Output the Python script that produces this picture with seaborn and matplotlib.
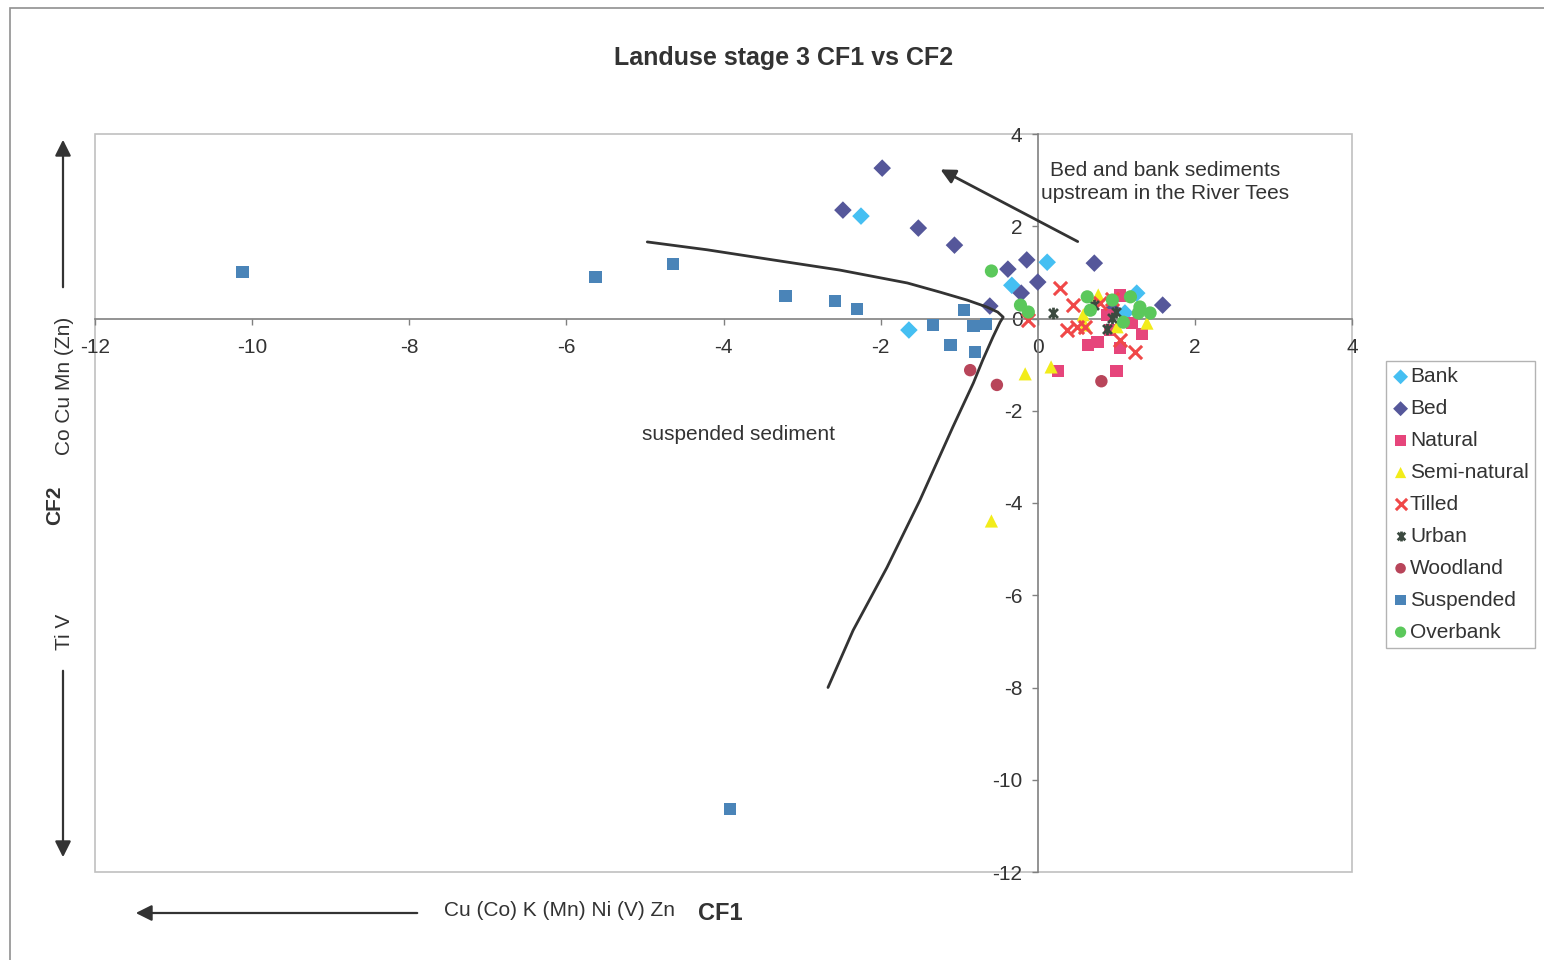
# Landuse stage 3 CF1 vs CF2 scatter
import matplotlib
matplotlib.use('Agg')
import matplotlib.pyplot as plt
from matplotlib.patches import Rectangle
from matplotlib.path import Path
import seaborn as sns

# data (CF1, CF2)
bank_x = [-2.25, -1.64, -0.33, 0.12, 1.26, 1.11]
bank_y = [2.22, -0.25, 0.72, 1.22, 0.55, 0.12]

bed_x = [-1.98, -2.48, -1.52, -1.06, -0.14, -0.38, 0.0, -0.21, -0.61, 0.72, 1.59, 0.95]
bed_y = [3.26, 2.35, 1.96, 1.59, 1.27, 1.07, 0.79, 0.55, 0.27, 1.20, 0.29, 0.20]

natural_x = [0.26, 0.64, 0.76, 1.00, 1.05, 1.33, 0.89, 1.05, 0.92, 1.20]
natural_y = [-1.14, -0.57, -0.51, -1.14, -0.64, -0.33, 0.07, 0.50, -0.25, -0.10]

semi_x = [-0.59, -0.16, 0.17, 0.77, 0.58, 0.60, 1.01, 1.39]
semi_y = [-4.39, -1.20, -1.05, 0.51, 0.08, -0.14, -0.18, -0.10]

tilled_x = [0.28, 0.45, 0.37, 0.50, 0.60, 1.24, 1.05, 0.79, -0.12, 0.95]
tilled_y = [0.66, 0.29, -0.25, -0.18, -0.18, -0.73, -0.47, 0.34, -0.03, 0.42]

urban_x = [0.20, 0.72, 0.88, 1.00, 0.95]
urban_y = [0.12, 0.30, -0.22, 0.15, 0.02]

wood_x = [-0.86, -0.52, 0.81]
wood_y = [-1.12, -1.44, -1.36]

susp_x = [-10.12, -5.63, -4.64, -3.21, -2.58, -2.30, -0.94, -1.33, -1.11, -0.82, -0.66, -0.80, -3.92]
susp_y = [1.01, 0.90, 1.18, 0.49, 0.38, 0.21, 0.18, -0.14, -0.57, -0.16, -0.12, -0.73, -10.64]

over_x = [-0.59, -0.22, -0.12, 0.63, 0.67, 0.95, 1.18, 1.30, 1.43, 1.09, 1.28]
over_y = [1.03, 0.29, 0.14, 0.47, 0.18, 0.40, 0.47, 0.25, 0.12, -0.08, 0.12]

# hand drawn boundary line and arrow (data coords)
curve_x = [-4.97, -4.21, -3.37, -2.52, -1.66, -1.24, -0.90, -0.65, -0.51, -0.44,
           -0.48, -0.57, -0.70, -0.82, -1.08, -1.50, -1.92, -2.35, -2.67]
curve_y = [1.66, 1.49, 1.27, 1.05, 0.77, 0.57, 0.40, 0.25, 0.14, 0.03,
           -0.08, -0.40, -0.90, -1.40, -2.35, -3.94, -5.40, -6.76, -8.00]
arrow_from = (0.54, 1.64)
arrow_to = (-1.27, 3.26)

ticks = [-12, -10, -8, -6, -4, -2, 0, 2, 4]

sns.set_theme(style='white')
plt.rcParams['font.family'] = ['Liberation Sans', 'DejaVu Sans']
plt.rcParams['axes.unicode_minus'] = False

urban_marker = Path([(-1, -1), (1, 1), (-1, 1), (1, -1), (0, -1.3), (0, 1.3)],
                    [Path.MOVETO, Path.LINETO, Path.MOVETO, Path.LINETO, Path.MOVETO, Path.LINETO])

fig = plt.figure(figsize=(15.44, 9.6), dpi=100)
ax = fig.add_axes([95/1544, 1-872/960, (1352-95)/1544, (872-134)/960])

series = [
    ('Bank', bank_x, bank_y, '#45BFF2', 'D', 80),
    ('Bed', bed_x, bed_y, '#55579A', 'D', 80),
    ('Natural', natural_x, natural_y, '#E6457B', 's', 80),
    ('Semi-natural', semi_x, semi_y, '#F2EC1A', '^', 90),
    ('Tilled', tilled_x, tilled_y, '#F04848', 'x', 90),
    ('Urban', urban_x, urban_y, '#3C4A40', urban_marker, 70),
    ('Woodland', wood_x, wood_y, '#B8455A', 'o', 80),
    ('Suspended', susp_x, susp_y, '#4A84B8', 's', 80),
    ('Overbank', over_x, over_y, '#5BC85B', 'o', 90),
]
for name, xs, ys, col, mk, sz in series:
    if mk == 'x':
        sns.scatterplot(x=xs, y=ys, ax=ax, color=col, marker=mk, s=sz, linewidth=2.2, label=name, zorder=3)
    elif name == 'Urban':
        sns.scatterplot(x=xs, y=ys, ax=ax, color=col, marker=mk, s=sz, edgecolor=col, linewidth=2,
                        label=name, zorder=3)
    else:
        sns.scatterplot(x=xs, y=ys, ax=ax, color=col, marker=mk, s=sz, edgecolor='none', label=name, zorder=3)

ax.set_xlim(-12, 4)
ax.set_ylim(-12, 4)
ax.set_xticks(ticks)
ax.set_yticks(ticks)
ax.set_xlabel('')
ax.set_ylabel('')

# excel style axes crossing at zero
for side in ['top', 'right']:
    ax.spines[side].set_visible(False)
ax.spines['left'].set_position(('data', 0))
ax.spines['bottom'].set_position(('data', 0))
for side in ['left', 'bottom']:
    ax.spines[side].set_color('#808080')
    ax.spines[side].set_linewidth(1.2)
ax.tick_params(axis='both', direction='out', length=4, width=1, color='#808080',
               labelsize=15, labelcolor='#333333', bottom=True, left=True)
ax.tick_params(axis='x', pad=10)
ax.tick_params(axis='y', pad=7)
ax.add_patch(Rectangle((0, 0), 1, 1, transform=ax.transAxes, fill=False,
                       edgecolor='#C0C0C0', lw=1.2, clip_on=False, zorder=0))

ax.plot(curve_x, curve_y, color='#333333', lw=2, zorder=4, solid_joinstyle='round')
ax.annotate('', xy=arrow_to, xytext=arrow_from,
            arrowprops=dict(arrowstyle='-|>', color='#333333', lw=2, mutation_scale=22))
ax.text(1.62, 2.96, 'Bed and bank sediments\nupstream in the River Tees', ha='center', va='center',
        fontsize=15, color='#333333', linespacing=1.25)
ax.text(-3.81, -2.51, 'suspended sediment', ha='center', va='center', fontsize=15, color='#333333')

leg = ax.legend(loc='upper left', bbox_to_anchor=(1386/1544, 1-361/960), bbox_transform=fig.transFigure,
                fontsize=15, frameon=True, fancybox=False, edgecolor='#A0A0A0', borderpad=0.3,
                labelspacing=0.62, handletextpad=0.05, handlelength=0.8, borderaxespad=0, markerscale=0.85)
leg.get_frame().set_linewidth(1)
for t in leg.get_texts():
    t.set_color('#333333')

# titles and direction arrows
fig.text(784/1544, 1-58/960, 'Landuse stage 3 CF1 vs CF2', ha='center', va='center',
         fontsize=18, fontweight='bold', color='#333333')
fig.text(720/1544, 1-913/960, 'CF1', ha='center', va='center', fontsize=17, fontweight='bold', color='#333333')
fig.text(559/1544, 1-910/960, 'Cu (Co) K (Mn) Ni (V) Zn', ha='center', va='center', fontsize=15, color='#333333')
fig.text(55/1544, 1-505/960, 'CF2', ha='center', va='center', rotation=90, fontsize=15,
         fontweight='bold', color='#333333')
fig.text(65/1544, 1-386/960, 'Co Cu Mn (Zn)', ha='center', va='center', rotation=90, fontsize=15, color='#333333')
fig.text(65/1544, 1-632/960, 'Ti V', ha='center', va='center', rotation=90, fontsize=15, color='#333333')

arr = dict(arrowstyle='-|>', color='#333333', lw=1.6, mutation_scale=24)
ax.annotate('', xy=(63/1544, 1-137/960), xytext=(63/1544, 1-290/960), xycoords='figure fraction',
            textcoords='figure fraction', arrowprops=arr, annotation_clip=False)
ax.annotate('', xy=(63/1544, 1-860/960), xytext=(63/1544, 1-668/960), xycoords='figure fraction',
            textcoords='figure fraction', arrowprops=arr, annotation_clip=False)
ax.annotate('', xy=(133/1544, 1-913/960), xytext=(420/1544, 1-913/960), xycoords='figure fraction',
            textcoords='figure fraction', arrowprops=arr, annotation_clip=False)

# outer chart frame
fig.add_artist(Rectangle((10/1544, -0.05), 1.0, 1.05 - 8/960, transform=fig.transFigure,
                         fill=False, edgecolor='#909090', lw=1.2))

fig.savefig('out.png', dpi=100)
